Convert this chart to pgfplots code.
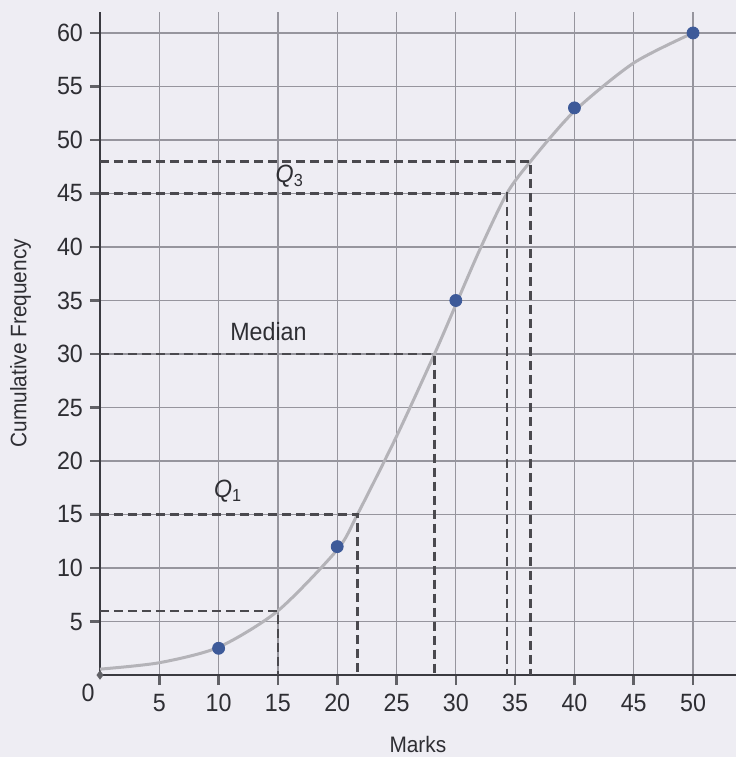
\documentclass[border=0pt]{standalone}
\usepackage{fontspec}
\setmainfont[FakeStretch=0.93]{Liberation Sans}
\usepackage{pgfplots}
\pgfplotsset{compat=1.18}
\usetikzlibrary{backgrounds}
\definecolor{bg}{HTML}{EEEDF3}
\definecolor{gridc}{HTML}{96959D}
\definecolor{curvec}{HTML}{B4B3B8}
\definecolor{ptc}{HTML}{3D5A99}
\definecolor{dashc}{HTML}{4A494E}
\definecolor{axc}{HTML}{3A3A40}
\definecolor{txt}{HTML}{2E2E33}
\begin{document}
\begin{tikzpicture}
\begin{axis}[
  x=5.93pt, y=5.35pt,
  xmin=0, xmax=53.6, ymin=0, ymax=62,
  axis lines=left,
  axis line style={axc, line width=1pt, -},
  xtick={5,10,...,50}, ytick={5,10,...,60},
  grid=major,
  major grid style={gridc, line width=0.6pt},
  tick align=outside,
  major tick length=5pt,
  tick style={axc!80, line width=1.3pt},
  /pgf/number format/assume math mode=true,
  ticklabel style={font=\fontsize{12.5}{13}\selectfont, text=txt},
  xticklabel style={yshift=-1pt},
  xlabel={Marks}, ylabel={Cumulative Frequency},
  label style={font=\fontsize{11.2}{12}\selectfont, text=txt},
  x label style={at={(axis description cs:0.5,-0.105)}, anchor=center},
  y label style={at={(axis description cs:-0.125,0.5)}, anchor=center, rotate=0},
  clip=false,
]
% curve
\addplot[curvec, line width=1.5pt, smooth, tension=0.45] coordinates {
 (0,0.55) (5,1.15) (10,2.6) (15,6) (20,11.7) (21.7,15) (25,22.3) (28.2,30) (30,34.6) (32,39.7) (34.3,45) (36.3,48) (40,52.7) (45,57.2) (50,60)
};
% dashed guides
\addplot[dashc, line width=1.25pt, dash pattern=on 4.5pt off 2.5pt] coordinates {(0,6) (15,6) (15,0)};
\addplot[dashc, line width=1.25pt, dash pattern=on 4.5pt off 2.5pt] coordinates {(0,15) (21.7,15) (21.7,0)};
\addplot[dashc, line width=1.25pt, dash pattern=on 4.5pt off 2.5pt] coordinates {(0,30) (28.2,30) (28.2,0)};
\addplot[dashc, line width=1.25pt, dash pattern=on 4.5pt off 2.5pt] coordinates {(0,45) (34.3,45) (34.3,0)};
\addplot[dashc, line width=1.25pt, dash pattern=on 4.5pt off 2.5pt] coordinates {(0,48) (36.3,48) (36.3,0)};
% points
\addplot[only marks, mark=*, mark size=3pt, mark options={fill=ptc, draw=ptc}] coordinates {
 (10,2.5) (20,12) (30,35) (40,53) (50,60)
};
\addplot[only marks, mark=diamond*, mark size=2pt, mark options={fill=axc!80, draw=axc!80}] coordinates {(0,0)};
% labels
\node[font=\fontsize{12.5}{13}\selectfont, text=txt] at (axis cs:16,46.6) {\textit{Q}\textsubscript{3}};
\node[font=\fontsize{12.5}{13}\selectfont, text=txt] at (axis cs:14.2,32.1) {Median};
\node[font=\fontsize{12.5}{13}\selectfont, text=txt] at (axis cs:10.8,17.2) {\textit{Q}\textsubscript{1}};
\node[font=\fontsize{12.5}{13}\selectfont, text=txt] at (axis cs:-1.0,-1.7) {0};
\coordinate (bl) at (axis cs:-8.43,-7.66);
\coordinate (tr) at (axis cs:53.6,63.08);
\end{axis}
\pgfresetboundingbox
\useasboundingbox (bl) rectangle (tr);
\begin{pgfonlayer}{background}
\fill[bg] (bl) rectangle (tr);
\end{pgfonlayer}
\end{tikzpicture}
\end{document}
